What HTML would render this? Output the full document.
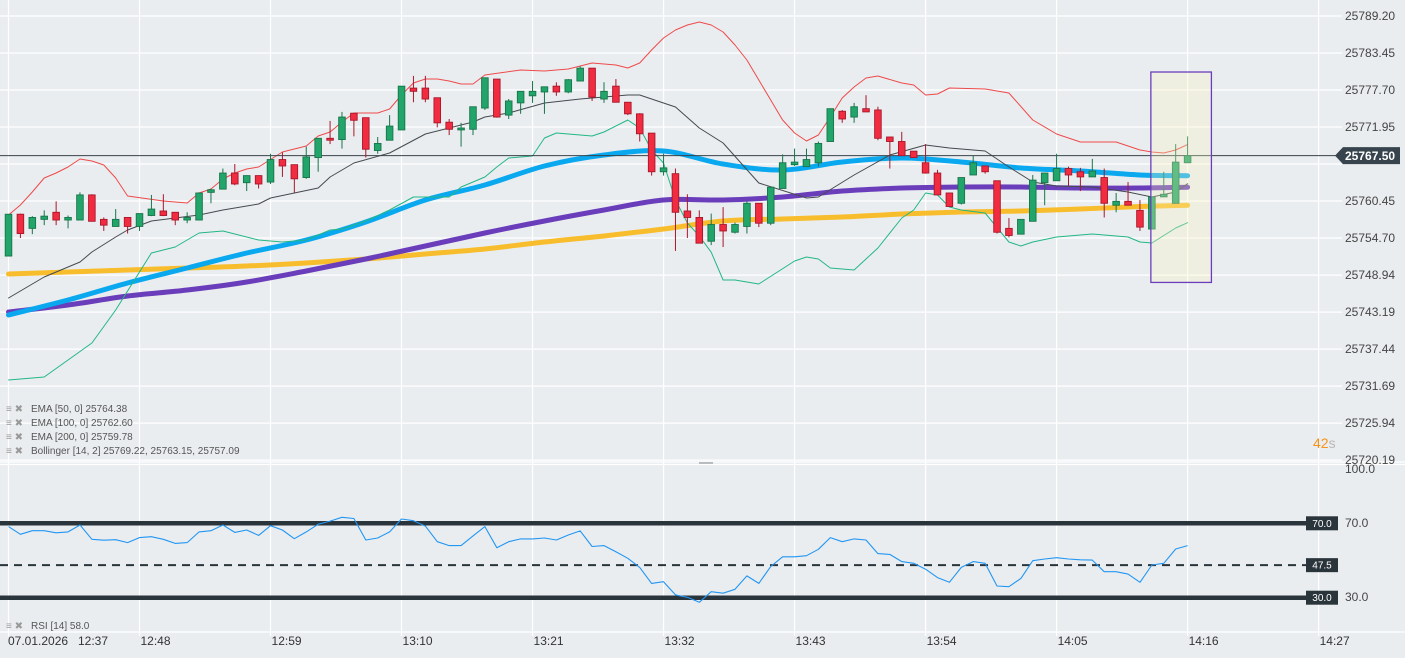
<!DOCTYPE html>
<html><head><meta charset="utf-8"><style>
html,body{margin:0;padding:0;background:#eaedf0;}
svg{display:block;font-family:"Liberation Sans",sans-serif;}
</style></head><body>
<svg id="chart" width="1405" height="658" viewBox="0 0 1405 658" xmlns="http://www.w3.org/2000/svg">
<rect x="0" y="0" width="1405" height="658" fill="#eaedf0"/>
<g id="grid"></g>
<g id="main"></g>
<g id="rsi"></g>
<g id="axes"></g>
<g id="legend" font-size="10" fill="#555">
  <g><text x="6" y="412" fill="#999">≡ ✖</text><text x="31" y="412">EMA [50,  0] 25764.38</text></g>
  <g><text x="6" y="426" fill="#999">≡ ✖</text><text x="31" y="426">EMA [100,  0] 25762.60</text></g>
  <g><text x="6" y="440" fill="#999">≡ ✖</text><text x="31" y="440">EMA [200,  0] 25759.78</text></g>
  <g><text x="6" y="454" fill="#999">≡ ✖</text><text x="31" y="454">Bollinger  [14, 2] 25769.22,  25763.15,  25757.09</text></g>
  <g><text x="6" y="629" fill="#999">≡ ✖</text><text x="31" y="629">RSI  [14]  58.0</text></g>
</g>
<text x="1313" y="448" font-size="14" fill="#f7931a">42<tspan fill="#b8b8b8">s</tspan></text>
</svg>
<script>
const NS='http://www.w3.org/2000/svg';
// ---- data ----
const opens=[25751.9,25758.4,25756.2,25757.6,25758.7,25757.5,25757.5,25761.4,25757.6,25756.5,
25757.9,25756.5,25758.2,25758.9,25758.7,25757.5,25757.5,25761.8,25762.3,25764.8,
25763.3,25764.4,25763.4,25766.9,25766.1,25764.1,25767.2,25770.2,25770.0,25774.1,
25773.4,25768.3,25769.9,25771.5,25778.0,25778.0,25776.5,25772.7,25771.5,25771.6,
25774.9,25779.4,25773.8,25775.7,25776.8,25777.4,25778.3,25777.4,25779.1,25781.1,
25776.3,25778.3,25775.8,25774.0,25771.0,25765.0,25764.7,25758.9,25757.9,25754.2,
25756.8,25755.6,25756.5,25760.1,25757.0,25762.4,25766.1,25765.8,25766.4,25769.7,
25774.4,25773.5,25774.8,25774.6,25770.4,25769.7,25768.2,25766.4,25764.8,25761.7,
25760.1,25764.5,25765.9,25763.6,25756.2,25755.3,25757.3,25763.3,25763.6,25765.5,
25765.0,25764.2,25764.1,25759.8,25760.4,25759.0,25756.1,25761.1,25760.1,25766.4];
const highs=[25758.4,25758.5,25758.1,25759.0,25760.4,25758.2,25761.8,25761.5,25757.9,25759.2,
25757.9,25758.5,25761.4,25761.5,25758.7,25758.7,25761.8,25762.4,25765.5,25766.2,
25764.4,25764.4,25767.8,25768.0,25766.1,25768.9,25770.2,25772.9,25774.3,25774.1,
25773.4,25770.4,25773.8,25778.3,25779.9,25779.9,25776.5,25773.2,25772.6,25775.1,
25779.6,25779.4,25776.3,25777.5,25779.1,25778.2,25778.9,25779.4,25781.4,25781.1,
25778.9,25779.4,25775.8,25774.1,25771.0,25767.8,25765.5,25761.5,25759.0,25758.5,
25759.5,25757.1,25760.4,25760.1,25762.6,25767.7,25768.6,25768.6,25769.7,25774.8,
25774.6,25775.7,25776.9,25775.1,25770.4,25771.2,25768.2,25769.3,25765.3,25761.7,
25764.1,25767.5,25765.9,25763.6,25757.8,25757.6,25764.5,25764.8,25767.8,25765.8,
25765.6,25767.0,25765.5,25761.7,25763.4,25760.6,25761.1,25765.0,25769.3,25770.5];
const lows=[25751.9,25754.7,25755.3,25756.7,25756.7,25756.2,25757.5,25757.3,25755.8,25756.5,
25755.4,25755.8,25758.1,25758.1,25756.7,25757.0,25757.5,25760.1,25762.3,25762.9,
25762.0,25762.4,25763.1,25764.2,25761.7,25763.9,25765.0,25769.3,25768.6,25770.5,
25767.2,25767.8,25769.9,25771.5,25775.8,25775.8,25771.9,25770.7,25768.9,25770.7,
25774.6,25773.4,25773.2,25774.0,25775.7,25774.0,25776.8,25777.2,25779.1,25776.0,
25775.7,25775.8,25773.8,25769.7,25764.4,25764.4,25752.7,25754.7,25753.9,25753.6,
25753.3,25755.4,25755.4,25756.4,25756.7,25762.4,25765.9,25765.8,25765.8,25769.7,
25772.6,25772.6,25774.3,25769.9,25765.5,25767.5,25767.2,25764.7,25761.4,25759.6,
25759.9,25764.5,25764.7,25755.4,25754.8,25755.3,25757.3,25759.8,25763.6,25762.8,
25762.0,25764.2,25757.9,25758.7,25759.8,25755.8,25756.1,25761.1,25760.1,25766.4];
const closes=[25758.4,25755.4,25757.9,25758.1,25757.5,25757.9,25761.4,25757.3,25756.7,25757.6,
25756.5,25758.5,25759.2,25758.2,25757.5,25757.9,25761.7,25762.2,25764.8,25763.1,
25764.4,25763.1,25766.9,25765.9,25763.9,25767.3,25770.2,25769.9,25773.5,25773.0,
25768.5,25769.4,25772.1,25778.3,25777.5,25776.3,25772.6,25771.6,25771.8,25775.1,
25779.6,25773.5,25776.0,25777.5,25777.5,25778.2,25777.4,25779.3,25781.1,25776.6,
25777.5,25775.8,25774.0,25770.9,25765.0,25765.6,25758.7,25757.9,25753.9,25756.8,
25755.8,25756.8,25760.1,25757.0,25762.6,25766.4,25766.5,25766.9,25769.4,25774.8,
25773.2,25775.1,25774.3,25770.2,25769.7,25767.5,25767.2,25764.8,25761.4,25759.6,
25764.1,25766.4,25765.0,25755.6,25755.1,25757.6,25763.7,25764.8,25765.5,25764.5,
25764.2,25765.1,25760.1,25760.4,25759.8,25756.4,25761.1,25761.5,25766.5,25767.5];
const emaIdx=[0,5,10,15,20,25,30,35,40,45,50,55,60,65,70,75,80,85,90,95,99];
const ema50=[25742.74,25745.07,25747.71,25750.04,25752.37,25754.39,25757.19,25760.61,25762.94,25765.89,25767.60,25768.22,25766.20,25765.27,25766.52,25767.14,25766.52,25765.58,25765.12,25764.49,25764.38];
const ema100=[25743.21,25744.29,25745.69,25746.62,25747.87,25749.58,25751.44,25753.46,25755.48,25757.35,25759.06,25760.61,25760.61,25761.08,25762.01,25762.47,25762.63,25762.63,25762.47,25762.47,25762.60];
const ema200=[25749.11,25749.42,25749.73,25750.04,25750.35,25750.82,25751.44,25752.22,25753.00,25754.09,25755.02,25756.10,25757.35,25757.66,25757.97,25758.43,25758.75,25758.90,25759.21,25759.60,25759.78];
const upperIdx=[0,1,2,3,4,5,6,7,8,9,10,13,15,16,17,18,19,20,21,23,25,26,27,28,29,31,32,33,34,35,36,37,38,39,40,43,45,47,49,51,52,53,54,55,56,57,58,59,60,61,62,63,64,65,66,67,68,69,70,71,72,73,75,76,77,78,79,82,84,86,88,90,93,95,96,97,98,99];
const upperBand=[25758.28,25759.83,25761.85,25764.03,25764.81,25765.74,25766.98,25766.67,25766.05,25764.03,25761.23,25760.45,25760.14,25761.70,25762.32,25763.87,25764.81,25765.43,25765.74,25768.07,25769.00,25770.56,25771.18,25772.73,25774.13,25774.13,25774.75,25776.93,25778.79,25779.41,25779.41,25779.10,25778.64,25778.64,25780.03,25780.81,25780.66,25780.97,25781.90,25781.59,25781.12,25781.90,25783.92,25785.78,25787.03,25787.80,25788.27,25787.80,25786.72,25784.70,25782.37,25779.26,25776.15,25773.04,25771.02,25769.78,25770.71,25773.51,25776.46,25778.17,25779.57,25779.88,25778.79,25778.48,25776.93,25777.08,25778.01,25777.86,25777.24,25773.04,25770.87,25769.62,25769.62,25768.38,25768.07,25767.91,25768.38,25769.22];
const midIdx=[0,3,6,7,9,10,12,16,18,21,22,26,27,29,32,35,39,40,42,45,48,52,53,55,56,58,60,63,67,68,71,74,77,79,82,84,86,88,91,94,96,98,99];
const midBand=[25745.38,25748.64,25750.98,25752.53,25754.86,25755.95,25757.35,25758.28,25759.06,25759.99,25760.92,25762.47,25764.18,25766.36,25767.91,25770.87,25772.73,25773.51,25774.13,25775.68,25776.31,25776.93,25776.93,25775.68,25775.06,25771.80,25769.47,25763.25,25760.92,25761.08,25764.49,25767.60,25769.16,25768.69,25768.22,25765.74,25763.41,25762.79,25762.63,25761.85,25761.08,25761.85,25763.15];
const lowerIdx=[0,3,7,9,12,14,16,18,21,23,25,27,28,30,32,34,37,38,40,41,42,44,45,46,49,50,52,53,54,55,56,57,58,59,60,61,63,66,67,68,69,71,73,75,76,77,78,79,80,82,84,85,86,88,91,94,95,96,98,99];
const lowerBand=[25732.64,25733.10,25738.39,25743.52,25752.37,25753.31,25755.48,25755.79,25754.39,25754.08,25754.39,25755.95,25756.10,25757.35,25759.06,25761.08,25761.08,25762.63,25764.18,25765.74,25767.14,25767.45,25770.24,25771.02,25770.56,25771.18,25773.04,25771.80,25768.38,25766.36,25760.61,25757.04,25755.00,25752.50,25748.18,25748.18,25747.56,25751.13,25751.75,25751.44,25750.04,25749.73,25753.15,25757.81,25759.06,25761.70,25761.39,25759.52,25759.06,25758.59,25754.08,25753.46,25754.08,25754.86,25755.33,25754.86,25754.08,25753.93,25756.26,25757.09];
const rsiValues=[68.2,64.1,66.0,66.0,64.9,65.4,69.1,61.4,60.9,61.2,
59.6,62.3,62.8,61.4,59.2,59.6,65.4,66.0,69.1,65.1,
66.4,63.5,68.7,66.4,61.7,65.4,69.5,71.2,73.2,72.6,
61.0,62.1,65.4,72.3,71.4,68.5,60.1,58.0,58.0,63.2,
68.2,56.9,60.1,61.6,61.6,62.1,61.0,63.7,65.9,57.5,
58.0,54.7,51.2,46.3,37.7,38.6,31.5,30.2,27.5,33.2,
32.4,34.5,41.7,37.7,46.7,52.0,52.0,52.6,56.0,62.3,
60.1,61.6,61.0,53.7,53.3,49.4,48.5,45.3,40.8,38.3,
46.3,49.4,48.5,36.3,35.9,40.4,49.9,50.8,51.5,50.8,
50.4,50.2,44.0,44.0,42.7,38.3,47.6,48.5,56.2,58.0];
const priceTicks=[25789.20,25783.45,25777.70,25771.95,25766.20,25760.45,25754.70,25748.94,25743.19,25737.44,25731.69,25725.94,25720.19];
const timeLabels=['12:37','12:48','12:59','13:10','13:21','13:32','13:43','13:54','14:05','14:16','14:27'];
const timeOffsets=[0,11,22,33,44,55,66,77,88,99,110];
const rsiLevels=[70,47.5,30];
const lastPrice=25767.50;
const boxStart=96, boxEnd=101, boxHigh=25780.5, boxLow=25747.8;

// ---- scales ----
function xS(i){return 8.5+i*11.91;}
function yS(p){return (25791.69-p)/0.1554;}
function rS(v){return 523.3+(70-v)*1.86;}

function mk(tag,attrs,parent){const e=document.createElementNS(NS,tag);for(const k in attrs)e.setAttribute(k,attrs[k]);parent.appendChild(e);return e;}
const grid=document.getElementById('grid'),main=document.getElementById('main'),rsi=document.getElementById('rsi'),axes=document.getElementById('axes');

// grid
priceTicks.forEach(function(p){
  const l=mk('line',{x1:0,x2:1342,y1:yS(p),y2:yS(p),stroke:'#ffffff','stroke-width':1.2},grid);
  
  
});
timeOffsets.forEach(function(m){
  const l=mk('line',{x1:xS(m),x2:xS(m),y1:0,y2:636,stroke:'#ffffff','stroke-width':1.2},grid);
  
  
});
[462,464.5,632].forEach(function(y){
  const l=mk('line',{x1:0,x2:1405,y1:y,y2:y,stroke:'#ffffff','stroke-width':1.3},grid);
  
  
});
const handle=mk('rect',{x:699,y:462,width:14,height:2,fill:'#b8bcc0'},grid);



function lineFrom(idx,vals,color,w,name,parent,smooth){
  const pts=idx.map(function(i,k){return [xS(i),yS(vals[k])];});
  let d='M'+pts[0][0].toFixed(1)+','+pts[0][1].toFixed(1);
  for(let k=1;k<pts.length;k++){
    if(smooth){
      const p0=pts[Math.max(0,k-2)],p1=pts[k-1],p2=pts[k],p3=pts[Math.min(pts.length-1,k+1)];
      const c1=[p1[0]+(p2[0]-p0[0])/6,p1[1]+(p2[1]-p0[1])/6],c2=[p2[0]-(p3[0]-p1[0])/6,p2[1]-(p3[1]-p1[1])/6];
      d+='C'+c1[0].toFixed(1)+','+c1[1].toFixed(1)+' '+c2[0].toFixed(1)+','+c2[1].toFixed(1)+' '+p2[0].toFixed(1)+','+p2[1].toFixed(1);
    } else d+='L'+pts[k][0].toFixed(1)+','+pts[k][1].toFixed(1);
  }
  const p=mk('path',{d:d,fill:'none',stroke:color,'stroke-width':w,'stroke-linejoin':'round','stroke-linecap':'round'},parent);
  
  
  return p;
}
lineFrom(emaIdx,ema200,'#f8bd2c',5,'ema-200-line',main,true);
lineFrom(emaIdx,ema100,'#6a3dbb',5,'ema-100-line',main,true);
lineFrom(emaIdx,ema50,'#0aa8ef',5,'ema-50-line',main,true);
lineFrom(upperIdx,upperBand,'#ee4a4a',1,'bollinger-upper',main,false);
lineFrom(midIdx,midBand,'#444a50',1,'bollinger-middle',main,false);
lineFrom(lowerIdx,lowerBand,'#22b784',1,'bollinger-lower',main,false);

// price line
const pl=mk('line',{x1:0,x2:1340,y1:yS(lastPrice),y2:yS(lastPrice),stroke:'#37424a','stroke-width':1},main);



// candles
opens.forEach(function(o,i){
  const c=closes[i],up=c>=o;
  const g=mk('g',{},main);
  
  
  const edge=up?'#17754a':'#a8162a',fill=up?'#21a56b':'#f22c40';
  mk('line',{x1:xS(i),x2:xS(i),y1:yS(highs[i]),y2:yS(lows[i]),stroke:edge,'stroke-width':1},g);
  const top=yS(Math.max(o,c)),bot=yS(Math.min(o,c));
  mk('rect',{x:xS(i)-3.3,y:top,width:6.6,height:Math.max(1.5,bot-top),fill:fill,stroke:edge,'stroke-width':0.9},g);
});

// selection box
const bx=mk('rect',{x:xS(boxStart)-1,y:yS(boxHigh),width:xS(boxEnd)-xS(boxStart)+1,height:yS(boxLow)-yS(boxHigh),fill:'rgba(250,245,190,0.3)',stroke:'#6a3dbb','stroke-width':1.3},main);



// price tag
const tag=mk('g',{},main);


const ty=yS(lastPrice);
mk('path',{d:'M1335,'+ty+' L1343,'+(ty-8.5)+' L1400,'+(ty-8.5)+' L1400,'+(ty+8.5)+' L1343,'+(ty+8.5)+' Z',fill:'#37444d'},tag);
const tt=mk('text',{x:1345,y:ty+4.5,fill:'#ffffff','font-size':12,'font-weight':'bold'},tag);
tt.textContent=lastPrice.toFixed(2);

// price axis labels
priceTicks.forEach(function(p){
  if(Math.abs(p-lastPrice)<2) return;
  const t=mk('text',{x:1345,y:yS(p)+4,'font-size':12,fill:'#444'},axes);
  t.textContent=p.toFixed(2);
  
  
});

// RSI
rsiLevels.forEach(function(v){
  const dashed=v!==70&&v!==30;
  const l=mk('line',{x1:0,x2:1306,y1:rS(v),y2:rS(v),stroke:'#2a343b','stroke-width':dashed?2:4.5,'stroke-dasharray':dashed?'8 6':'none'},rsi);
  
  
  const b=mk('rect',{x:1306,y:rS(v)-7,width:32,height:14,fill:'#2a343b'},rsi);
  
  
  const t=mk('text',{x:1322,y:rS(v)+3.5,'font-size':10,fill:'#fff','text-anchor':'middle'},rsi);
  t.textContent=v.toFixed(1);
});
let rd='';rsiValues.forEach(function(v,i){rd+=(i?'L':'M')+xS(i).toFixed(1)+','+rS(v).toFixed(1);});
const rl=mk('path',{d:rd,fill:'none',stroke:'#2196f3','stroke-width':1.1,'stroke-linejoin':'round'},rsi);


[[100,469],[70,523],[30,597]].forEach(function(a){
  const t=mk('text',{x:1345,y:a[1]+4,'font-size':12,fill:'#444'},axes);
  t.textContent=a[0].toFixed(1);
  
  
});

// time axis
const dt=mk('text',{x:8,y:645,'font-size':12,fill:'#333'},axes);
dt.textContent='07.01.2026';


timeLabels.forEach(function(s,k){
  const x=k===0?78:xS(timeOffsets[k])+1;
  const t=mk('text',{x:x,y:645,'font-size':12,fill:'#333'},axes);
  t.textContent=s;
  
  
});
</script>
</body></html>
